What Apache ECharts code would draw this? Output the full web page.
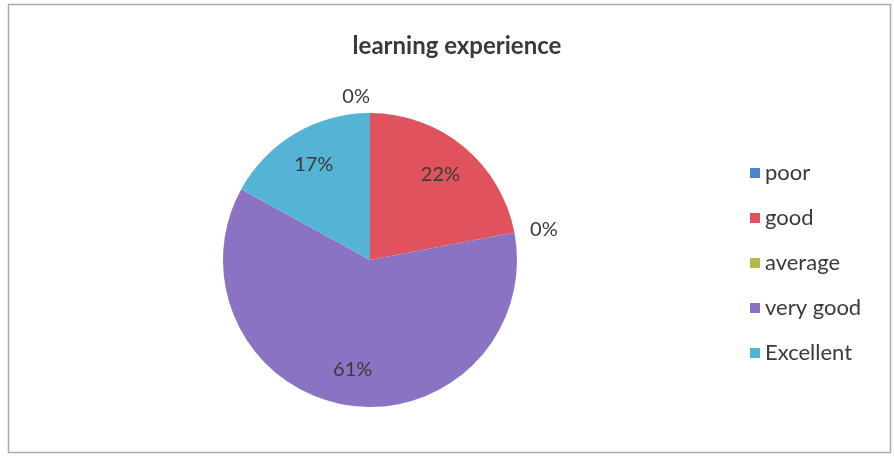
<!DOCTYPE html>
<html>
<head>
<meta charset="utf-8">
<script src="https://cdn.jsdelivr.net/npm/echarts@6/dist/echarts.min.js"></script>
<style>
  html, body { margin: 0; padding: 0; background: #fff; }
  #myChart { width: 894px; height: 457px; }
</style>
</head>
<body>
<div id="myChart"></div>
<script>
// categories and shares (%)
const categories = ["poor", "good", "average", "very good", "Excellent"];
const shares = [0, 22, 0, 61, 17];
const colors = ["#4e84c8", "#e0535e", "#b5b84c", "#8a73c3", "#55b3d6"];

const fontFamily = "Lato, 'Open Sans', sans-serif";

let myChart = echarts.init(document.getElementById("myChart"));

let pieData = categories.map((name, i) => ({
  name: name,
  value: shares[i],
  itemStyle: { color: colors[i] },
  // zero slices get their label outside the pie, the others are drawn by the ring below
  label: { show: shares[i] === 0 }
}));

let labelData = categories.map((name, i) => ({
  name: name,
  value: shares[i],
  label: { show: shares[i] !== 0 }
}));

myChart.setOption({
  animation: false,
  title: {
    text: "learning experience",
    left: 452,
    top: 29,
    textAlign: "center",
    textStyle: { fontFamily: fontFamily, fontSize: 24, fontWeight: "bold", color: "#3a3a3a" }
  },
  legend: {
    orient: "vertical",
    left: 745,
    top: 157,
    itemWidth: 10,
    itemHeight: 10,
    itemGap: 23,
    icon: "rect",
    data: categories,
    textStyle: { fontFamily: fontFamily, fontSize: 22, color: "#3a3a3a", lineHeight: 22 }
  },
  graphic: [
    {
      type: "rect",
      shape: { x: 8.5, y: 4.5, width: 882, height: 448 },
      style: { fill: "none", stroke: "#b0a8ac", lineWidth: 1.5 },
      silent: true
    }
  ],
  series: [
    {
      name: "learning experience",
      type: "pie",
      center: [370, 260],
      radius: [0, 147],
      startAngle: 90,
      clockwise: true,
      data: pieData,
      label: {
        position: "outside",
        formatter: "{d}%",
        fontFamily: fontFamily,
        fontSize: 20,
        color: "#3a3a3a",
        distanceToLabelLine: 0
      },
      labelLine: { show: false, length: 16, length2: 0 },
      emphasis: { disabled: true }
    },
    {
      name: "labels",
      type: "pie",
      center: [370, 260],
      radius: [68, 147],
      startAngle: 90,
      clockwise: true,
      silent: true,
      data: labelData,
      itemStyle: { color: "rgba(0,0,0,0)" },
      label: {
        position: "inside",
        formatter: "{d}%",
        fontFamily: fontFamily,
        fontSize: 20,
        color: "#3a3a3a"
      },
      labelLine: { show: false },
      emphasis: { disabled: true }
    }
  ]
});
</script>
</body>
</html>
